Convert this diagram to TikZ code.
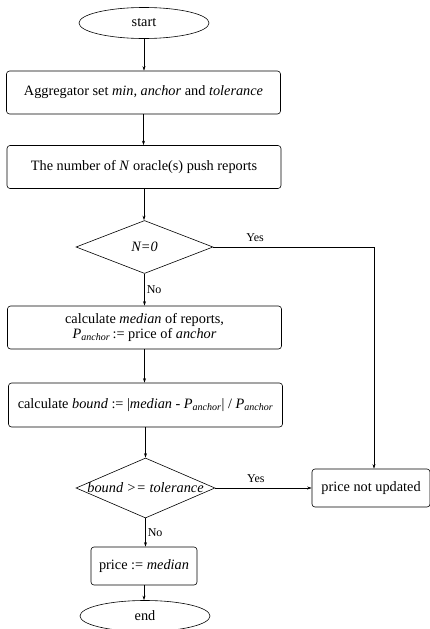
\documentclass[tikz,border=0pt]{standalone}
\usepackage{fontspec}
\setmainfont{Liberation Serif}
\usetikzlibrary{shapes.geometric,arrows.meta}

\begin{document}
\begin{tikzpicture}[x=1pt,y=-1pt,
		font=\fontsize{14.3}{15.5}\selectfont,
		terminal/.style={draw,ellipse,line width=0.6pt,minimum width=130pt,minimum height=31pt,inner sep=0pt},
		stepbox/.style={draw,rounded corners=3pt,line width=0.6pt,minimum width=274pt,minimum height=43pt,align=center,inner sep=2pt},
		decision/.style={draw,diamond,line width=0.6pt,inner sep=0pt},
		flow/.style={-{Stealth[length=4.5pt,width=3pt]},line width=0.5pt},
		answer/.style={font=\fontsize{12}{14}\selectfont,inner sep=2pt}]
		\useasboundingbox (0,0) rectangle (430,629);
		% main column
		\node[terminal] (start) at (144,23) {start};
		\node[stepbox] (setup) at (143.5,92.5) {Aggregator set \textit{min, anchor} and \textit{tolerance}};
		\node[stepbox] (push) at (144,167) {The number of \textit{N} oracle(s) push reports};
		\node[decision,minimum width=137pt,minimum height=53pt] (none) at (144.5,247) {\textit{N=0}};
		\node[stepbox] (median) at (144.5,327.5) {calculate \textit{median} of reports,\\\textit{P}\textsubscript{\textit{anchor}}\,:= price of \textit{anchor}};
		\node[stepbox,minimum height=44pt] (bound) at (145.5,405) {calculate \textit{bound} := |\textit{median} - \textit{P}\textsubscript{\textit{anchor}}| / \textit{P}\textsubscript{\textit{anchor}}};
		\node[decision,minimum width=139pt,minimum height=60pt] (check) at (145.5,488) {\makebox[0pt]{\textit{bound >= tolerance}}};
		\node[stepbox,minimum width=106pt,minimum height=38pt] (price) at (144,566) {price := \textit{median}};
		\node[terminal] (end) at (145,616) {end};
		% side branch
		\node[stepbox,minimum width=118pt,minimum height=38pt] (skip) at (371,488) {price not updated};
		\coordinate (corner) at (374,247);

		\draw[flow] (start) -- (start|-setup.north);
		\draw[flow] (setup) -- (setup|-push.north);
		\draw[flow] (push) -- (push|-none.north);
		\draw[flow] (none) -- node[answer,right]{No} (none|-median.north);
		\draw[flow] (median) -- (median|-bound.north);
		\draw[flow] (bound) -- (bound|-check.north);
		\draw[flow] (check) -- node[answer,right]{No} (check|-price.north);
		\draw[flow] (price) -- (price|-end.north);
		\draw[line width=0.5pt] (none.east) -- node[answer,above,pos=0.26,yshift=3pt]{Yes} (corner);
		\draw[flow] (corner) -- (corner|-skip.north);
		\draw[flow] (check.east) -- node[answer,above,pos=0.42,yshift=3pt]{Yes} (skip.west);
	\end{tikzpicture}
\end{document}
